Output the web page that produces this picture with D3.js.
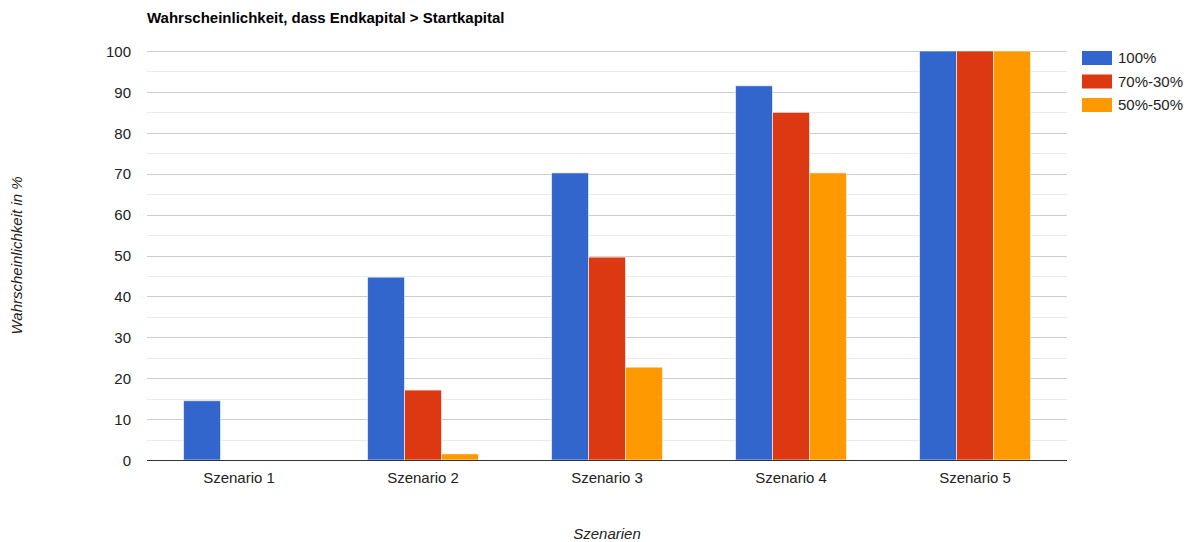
<!DOCTYPE html>
<html>
<head>
<meta charset="utf-8">
<script src="https://cdn.jsdelivr.net/npm/d3@7"></script>
<style>
  html, body { margin: 0; padding: 0; background: #fff; }
  svg { display: block; font-family: "Liberation Sans", Arial, sans-serif; }
</style>
</head>
<body>
<svg id="chart" width="1190" height="542"></svg>
<script>
// Chart data
const categories = ["Szenario 1", "Szenario 2", "Szenario 3", "Szenario 4", "Szenario 5"];
const seriesNames = ["100%", "70%-30%", "50%-50%"];
const seriesColors = ["#3366cc", "#dc3912", "#ff9900"];
const values100 = [14.5, 44.7, 70.2, 91.5, 100];
const values7030 = [0, 17.1, 49.6, 85.0, 100];
const values5050 = [0, 1.5, 22.7, 70.2, 100];
const yTicks = [0, 10, 20, 30, 40, 50, 60, 70, 80, 90, 100];
const yMinorTicks = [5, 15, 25, 35, 45, 55, 65, 75, 85, 95];

const seriesValues = [values100, values7030, values5050];

const svg = d3.select("#chart");
const plot = { left: 147, right: 1067, top: 51, bottom: 460 };
const fontSize = 15;

const x0 = d3.scaleBand()
  .domain(categories)
  .range([plot.left, plot.right])
  .paddingInner(0.397)
  .paddingOuter(0.1985);

const x1 = d3.scaleBand()
  .domain(seriesNames)
  .range([0, x0.bandwidth()]);

const y = d3.scaleLinear().domain([0, 100]).range([plot.bottom, plot.top]);

// Minor gridlines
svg.append("g")
  .selectAll("line")
  .data(yMinorTicks)
  .join("line")
  .attr("x1", plot.left).attr("x2", plot.right)
  .attr("y1", d => Math.round(y(d)) + 0.5).attr("y2", d => Math.round(y(d)) + 0.5)
  .attr("stroke", "#ebebeb");

// Major gridlines
svg.append("g")
  .selectAll("line")
  .data(yTicks.filter(d => d !== 0))
  .join("line")
  .attr("x1", plot.left).attr("x2", plot.right)
  .attr("y1", d => Math.round(y(d)) + 0.5).attr("y2", d => Math.round(y(d)) + 0.5)
  .attr("stroke", "#cccccc");

// Y axis labels
const yAxis = d3.axisLeft(y).tickValues(yTicks).tickSize(0).tickPadding(16);
const yg = svg.append("g").attr("transform", `translate(${plot.left},0)`).call(yAxis);
yg.select(".domain").remove();
yg.selectAll("text")
  .attr("font-size", fontSize)
  .attr("font-family", "'Liberation Sans', Arial, sans-serif")
  .attr("fill", "#222")
  .attr("dy", "0.35em");

// Bars
const groups = svg.append("g")
  .selectAll("g")
  .data(categories)
  .join("g")
  .attr("transform", d => `translate(${x0(d)},0)`);

groups.selectAll("rect")
  .data((c, i) => seriesNames.map((s, k) => ({ s, k, v: seriesValues[k][i] })).filter(d => d.v > 0))
  .join("rect")
  .attr("x", d => x1(d.s))
  .attr("width", x1.bandwidth())
  .attr("y", d => y(d.v))
  .attr("height", d => y(0) - y(d.v))
  .attr("fill", d => seriesColors[d.k])
  .attr("stroke", "#ffffff")
  .attr("stroke-opacity", 0.6)
  .attr("stroke-width", 1);

// Baseline
svg.append("line")
  .attr("x1", plot.left).attr("x2", plot.right)
  .attr("y1", Math.round(y(0)) + 0.5).attr("y2", Math.round(y(0)) + 0.5)
  .attr("stroke", "#333333");

// X axis labels
const xAxis = d3.axisBottom(x0).tickSize(0).tickPadding(12);
const xg = svg.append("g").attr("transform", `translate(0,${plot.bottom})`).call(xAxis);
xg.select(".domain").remove();
xg.selectAll("text")
  .attr("font-size", fontSize)
  .attr("font-family", "'Liberation Sans', Arial, sans-serif")
  .attr("fill", "#222");

// Title
svg.append("text")
  .attr("x", plot.left).attr("y", 23)
  .attr("font-size", fontSize).attr("font-weight", "bold")
  .attr("fill", "#000")
  .text("Wahrscheinlichkeit, dass Endkapital > Startkapital");

// Axis titles
svg.append("text")
  .attr("x", (plot.left + plot.right) / 2).attr("y", 539)
  .attr("text-anchor", "middle")
  .attr("font-size", fontSize).attr("font-style", "italic")
  .attr("fill", "#222")
  .text("Szenarien");

svg.append("text")
  .attr("transform", `translate(22,${(plot.top + plot.bottom) / 2}) rotate(-90)`)
  .attr("text-anchor", "middle")
  .attr("font-size", fontSize).attr("font-style", "italic")
  .attr("fill", "#222")
  .text("Wahrscheinlichkeit in %");

// Legend
const legend = svg.append("g").attr("transform", "translate(1082,51)");
const items = legend.selectAll("g")
  .data(seriesNames)
  .join("g")
  .attr("transform", (d, i) => `translate(0,${i * 23.5})`);
items.append("rect")
  .attr("width", 30).attr("height", 14)
  .attr("fill", (d, i) => seriesColors[i]);
items.append("text")
  .attr("x", 36).attr("y", 7).attr("dy", "0.35em")
  .attr("font-size", fontSize)
  .attr("fill", "#222")
  .text(d => d);
</script>
</body>
</html>
